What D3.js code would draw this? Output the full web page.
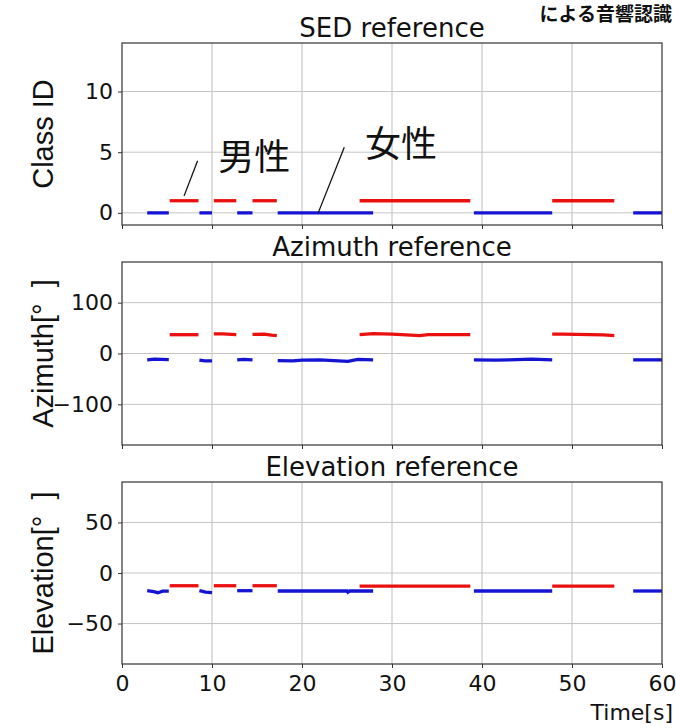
<!DOCTYPE html>
<html>
<head>
<meta charset="utf-8">
<script src="https://cdn.jsdelivr.net/npm/d3@7"></script>
<style>
  body { margin: 0; background: #fff; }
  svg { display: block; }
  .tick text { font-family: "DejaVu Sans", sans-serif; font-size: 22px; fill: #111; }
</style>
</head>
<body>
<svg width="676" height="728"></svg>
<script>
// time axis
var timeDomain = [0, 60];
var timeTicks = [0, 10, 20, 30, 40, 50, 60];

// SED: active spans [start, end] in seconds, class ids
var maleSpans = [[5.3, 8.5], [10.2, 12.7], [14.5, 17.2], [26.4, 38.7], [47.8, 54.7]];
var femaleSpans = [[2.8, 5.2], [8.6, 10.0], [12.8, 14.5], [17.3, 27.9], [39.1, 47.8], [56.8, 60]];
var maleClass = 1, femaleClass = 0;
var sedTicks = [0, 5, 10];

// azimuth [t, deg] per segment
var aziMale = [
  [[5.3, 37], [8.5, 37]],
  [[10.2, 38.5], [11.2, 38.5], [12.7, 37]],
  [[14.5, 37.5], [15.8, 38], [16.6, 36], [17.2, 35]],
  [[26.4, 37], [27.9, 39], [30, 38], [33.1, 35], [34, 37], [38.7, 37]],
  [[47.8, 38], [49, 38], [53.5, 36.5], [54.7, 35]]
];
var aziFemale = [
  [[2.8, -12.5], [3.6, -11], [5.2, -12]],
  [[8.6, -13], [9.2, -14.5], [10.0, -14.5]],
  [[12.8, -12.5], [13.5, -11.5], [14.5, -12.5]],
  [[17.3, -14], [19, -14.5], [20, -13], [22, -12.5], [25.1, -15.5], [26.2, -11.5], [27.9, -12.5]],
  [[39.1, -12.5], [41.5, -13], [43, -12.5], [45.5, -11], [47.8, -12.5]],
  [[56.8, -12.5], [60, -12.5]]
];
var aziTicks = [-100, 0, 100];

// elevation [t, deg] per segment
var eleMale = [
  [[5.3, -12.6], [8.5, -12.6]],
  [[10.2, -12.6], [12.7, -12.6]],
  [[14.5, -12.6], [17.2, -12.6]],
  [[26.4, -12.9], [38.7, -12.9]],
  [[47.8, -12.9], [54.7, -12.9]]
];
var eleFemale = [
  [[2.8, -17.5], [3.5, -18.5], [4, -19.5], [4.5, -18], [5.2, -18]],
  [[8.6, -17.5], [9.3, -19], [10, -19.5]],
  [[12.8, -17.5], [14.5, -17.5]],
  [[17.3, -17.8], [25, -17.8], [25.1, -19], [25.3, -17.8], [27.9, -17.8]],
  [[39.1, -17.8], [47.8, -17.8]],
  [[56.8, -17.8], [60, -17.8]]
];
var eleTicks = [-50, 0, 50];

var red = "#ea1010", blue = "#1414d2";

var svg = d3.select("svg");

var left = 122, right = 662;
var x = d3.scaleLinear().domain(timeDomain).range([left, right]);

var panels = [
  {top: 43, bottom: 225, domain: [-1, 14], ticks: sedTicks, title: "SED reference", label: "Class ID",
   male: maleSpans.map(function(s) { return [[s[0], maleClass], [s[1], maleClass]]; }),
   female: femaleSpans.map(function(s) { return [[s[0], femaleClass], [s[1], femaleClass]]; })},
  {top: 262, bottom: 445, domain: [-180, 180], ticks: aziTicks, title: "Azimuth reference", label: "Azimuth[°  ]",
   male: aziMale, female: aziFemale},
  {top: 482, bottom: 664, domain: [-90, 90], ticks: eleTicks, title: "Elevation reference", label: "Elevation[°  ]",
   male: eleMale, female: eleFemale}
];

panels.forEach(function(p, i) {
  var y = d3.scaleLinear().domain(p.domain).range([p.bottom, p.top]);
  p.y = y;
  var g = svg.append("g");

  // grid
  g.selectAll(".vg").data(timeTicks.slice(1, -1)).enter().append("line")
      .attr("x1", function(d) { return x(d); }).attr("x2", function(d) { return x(d); })
      .attr("y1", p.top).attr("y2", p.bottom)
      .attr("stroke", "#bdbdbd").attr("stroke-width", 1);
  g.selectAll(".hg").data(p.ticks).enter().append("line")
      .attr("x1", left).attr("x2", right)
      .attr("y1", function(d) { return y(d); }).attr("y2", function(d) { return y(d); })
      .attr("stroke", "#c4c4c4").attr("stroke-width", 1);

  // axes
  g.append("g")
      .attr("transform", "translate(" + left + ",0)")
      .call(d3.axisLeft(y).tickValues(p.ticks).tickSize(4).tickPadding(5).tickFormat(d3.format("d")))
      .call(function(a) { a.select(".domain").remove(); a.selectAll("line").attr("stroke", "#333"); });

  var xa = d3.axisBottom(x).tickValues(timeTicks).tickSize(4).tickPadding(7);
  if (i < 2) xa.tickFormat("");
  g.append("g")
      .attr("transform", "translate(0," + p.bottom + ")")
      .call(xa)
      .call(function(a) { a.select(".domain").remove(); a.selectAll("line").attr("stroke", "#333"); });

  // data
  var line = d3.line().x(function(d) { return x(d[0]); }).y(function(d) { return y(d[1]); });
  g.selectAll(".f").data(p.female).enter().append("path")
      .attr("d", line).attr("fill", "none").attr("stroke", blue).attr("stroke-width", 3.3);
  g.selectAll(".m").data(p.male).enter().append("path")
      .attr("d", line).attr("fill", "none").attr("stroke", red).attr("stroke-width", 3.3);

  // frame
  g.append("rect")
      .attr("x", left).attr("y", p.top).attr("width", right - left).attr("height", p.bottom - p.top)
      .attr("fill", "none").attr("stroke", "#333").attr("stroke-width", 1.2);

  // title
  g.append("text")
      .attr("x", (left + right) / 2).attr("y", p.top - 6)
      .attr("text-anchor", "middle")
      .style("font-family", "'DejaVu Sans', sans-serif").style("font-size", "26px").attr("fill", "#111")
      .text(p.title);

  // y label
  g.append("text")
      .attr("transform", "translate(53," + ((p.top + p.bottom) / 2) + ") rotate(-90)")
      .attr("text-anchor", "middle")
      .style("font-family", "'Liberation Sans', Arial, sans-serif").style("font-size", "29px")
      .style("white-space", "pre").attr("fill", "#111")
      .text(p.label);
});

// x label
svg.append("text")
    .attr("x", 673).attr("y", 720).attr("text-anchor", "end")
    .style("font-family", "'DejaVu Sans', sans-serif").style("font-size", "22px").attr("fill", "#111")
    .text("Time[s]");

// annotations in SED panel
var ys = panels[0].y;
var notes = [
  {text: "男性", tx: 10.7, ty: 3.5, from: [6.9, 1.4], to: [8.4, 4.3]},
  {text: "女性", tx: 27.0, ty: 4.6, from: [21.8, 0], to: [24.7, 5.4]}
];
notes.forEach(function(n) {
  svg.append("line")
      .attr("x1", x(n.from[0])).attr("y1", ys(n.from[1]))
      .attr("x2", x(n.to[0])).attr("y2", ys(n.to[1]))
      .attr("stroke", "#111").attr("stroke-width", 1.3);
  svg.append("text")
      .attr("x", x(n.tx)).attr("y", ys(n.ty))
      .style("font-family", "'Noto Sans CJK JP', sans-serif").style("font-size", "36px").attr("fill", "#111")
      .text(n.text);
});

// heading fragment at the very top right
svg.append("text")
    .attr("x", 672).attr("y", 21).attr("text-anchor", "end")
    .style("font-family", "'Noto Sans CJK JP', sans-serif").style("font-size", "19px").style("font-weight", "700")
    .attr("fill", "#111")
    .text("による音響認識");
</script>
</body>
</html>
